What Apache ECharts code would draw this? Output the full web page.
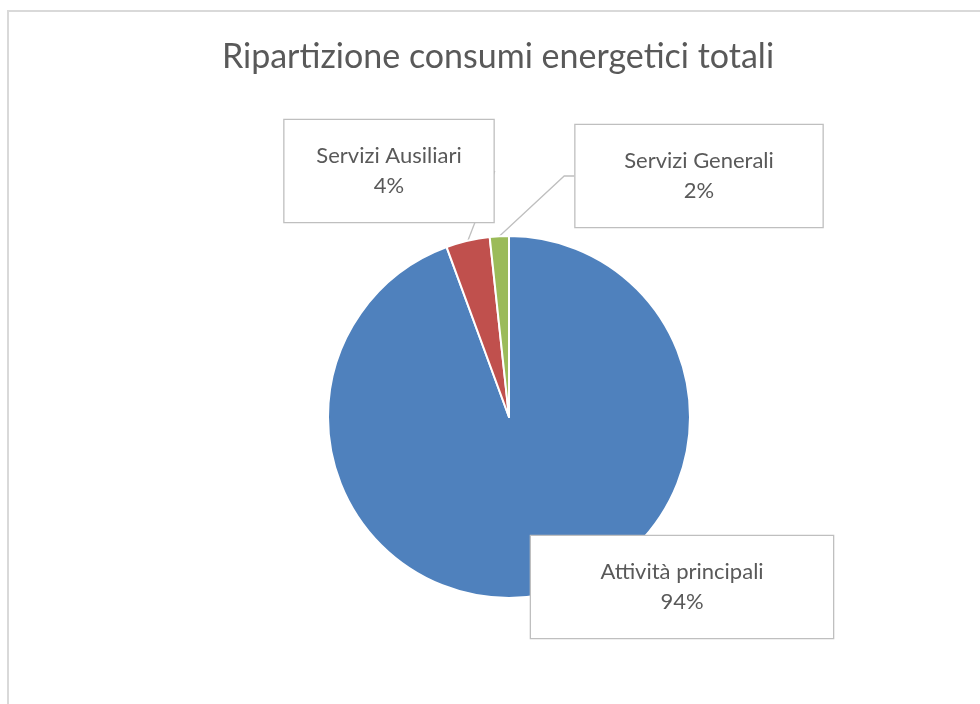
<!DOCTYPE html>
<html>
<head>
<meta charset="utf-8">
<script src="https://cdn.jsdelivr.net/npm/echarts@6/dist/echarts.min.js"></script>
<style>
  html, body { margin: 0; padding: 0; background: #fff; overflow: hidden; }
  #chart {
    position: absolute;
    left: 7px;
    top: 10px;
    width: 978px;
    height: 692px;
    border-left: 2px solid #d9d9d9;
    border-top: 2px solid #d9d9d9;
  }
</style>
</head>
<body>
<div id="chart"></div>
<script>
// dati
const categories = ['Attività principali', 'Servizi Ausiliari', 'Servizi Generali']
const values = [94.4, 3.9, 1.7]
const colors = ['#4F81BD', '#C0504D', '#9BBB59']

// riquadri delle etichette (centro e larghezza, px nel grafico)
const calloutBoxes = [
  { x: 673, y: 575, w: 302 },
  { x: 380, y: 159, w: 209 },
  { x: 690, y: 164, w: 247 }
]

const chart = echarts.init(document.getElementById('chart'))

chart.setOption({
  animation: false,
  title: {
    text: 'Ripartizione consumi energetici totali',
    left: 'center',
    top: 23,
    textStyle: { fontFamily: 'Lato', fontSize: 34, fontWeight: 'normal', color: '#595959' }
  },
  series: [{
    type: 'pie',
    center: [500, 405],
    radius: 181,
    startAngle: 90,
    clockwise: true,
    itemStyle: { borderColor: '#fff', borderWidth: 2 },
    label: {
      show: true,
      position: 'outside',
      formatter: p => p.name + '\n' + Math.round(p.percent) + '%',
      fontFamily: 'Lato',
      fontSize: 22,
      lineHeight: 30,
      color: '#595959',
      align: 'center',
      backgroundColor: '#fff',
      borderColor: '#bfbfbf',
      borderWidth: 1.3,
      padding: [21, 0]
    },
    labelLine: {
      show: true,
      length: 10,
      length2: 10,
      lineStyle: { color: '#bfbfbf', width: 1.3 }
    },
    labelLayout: params => {
      const b = calloutBoxes[params.dataIndex]
      return { x: b.x, y: b.y, align: 'center', verticalAlign: 'middle' }
    },
    data: categories.map((name, i) => ({
      name,
      value: values[i],
      itemStyle: { color: colors[i] },
      label: { width: calloutBoxes[i].w },
      labelLine: { show: i !== 0 }
    }))
  }]
})
</script>
</body>
</html>
